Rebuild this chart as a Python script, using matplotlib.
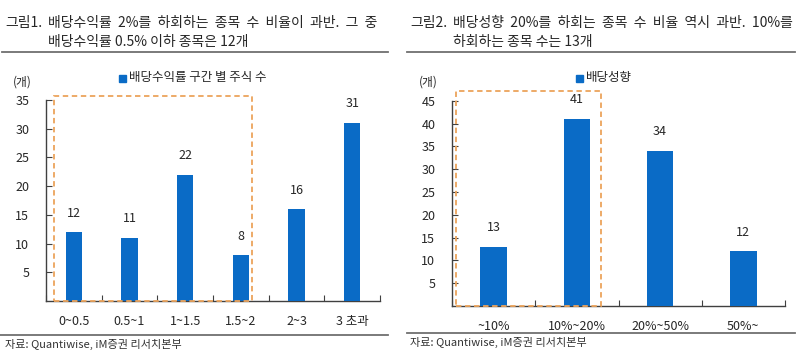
import matplotlib
matplotlib.use('Agg')
import matplotlib.pyplot as plt
import matplotlib.patches as patches
from matplotlib.lines import Line2D

plt.rcParams['font.family'] = ['Noto Sans CJK KR', 'DejaVu Sans']

# 데이터
구간1 = ['0~0.5', '0.5~1', '1~1.5', '1.5~2', '2~3', '3 초과']
주식수1 = [12, 11, 22, 8, 16, 31]
구간2 = ['~10%', '10%~20%', '20%~50%', '50%~']
주식수2 = [13, 41, 34, 12]

W, H = 800, 362
파랑 = '#0a6bc6'
주황 = '#eca45c'
글자 = '#262626'


def px(x, y):
    return x / W, 1 - y / H


fig = plt.figure(figsize=(W / 100, H / 100), dpi=100)


def 그래프(rect, 구간, 값, ymax, 범례, 폭, 박스):
    ax = fig.add_axes(rect)
    n = len(구간)
    xs = list(range(n))
    ax.bar(xs, 값, width=폭, color=파랑, label=범례, zorder=3)
    for x, v in zip(xs, 값):
        ax.annotate(str(v), (x, v), xytext=(0, 9), textcoords='offset points',
                    ha='center', va='bottom', fontsize=9, color=글자)
    ax.set_xlim(-0.5, n - 0.5)
    ax.set_ylim(0, ymax)
    ax.set_yticks(range(5, ymax + 1, 5))
    ax.set_xticks([i - 0.5 for i in range(n + 1)])
    ax.set_xticklabels([])
    ax.set_xticks(xs, minor=True)
    ax.set_xticklabels(구간, minor=True)
    ax.tick_params(axis='x', which='major', direction='in', length=4, color='#404040')
    ax.tick_params(axis='x', which='minor', length=0, pad=10, labelsize=9, labelcolor=글자)
    ax.tick_params(axis='y', direction='in', length=4, color='#404040', pad=12,
                   labelsize=9, labelcolor=글자)
    for s in ['top', 'right']:
        ax.spines[s].set_visible(False)
    for s in ['left', 'bottom']:
        ax.spines[s].set_color('#404040')
        ax.spines[s].set_linewidth(1.0)
    x0, x1, ytop = 박스
    ax.add_patch(patches.Rectangle((x0, 0), x1 - x0, ytop, fill=False,
                                   edgecolor=주황, linestyle=(0, (3, 2)),
                                   linewidth=1.3, clip_on=False, zorder=4))
    return ax


ax1 = 그래프([46 / W, 1 - 301 / H, 334 / W, 201 / H], 구간1, 주식수1, 35,
            '배당수익률 구간 별 주식 수', 0.29, (-0.356, 3.2, 35.7))
ax2 = 그래프([452 / W, 1 - 306 / H, 333 / W, 205.3 / H], 구간2, 주식수2, 45,
            '배당성향', 0.32, (-0.452, 1.29, 47.1))

# 범례
for (x, y, t) in [(122, 78, '배당수익률 구간 별 주식 수'), (579, 78, '배당성향')]:
    fig.patches.append(patches.Rectangle(px(x - 3.5, y + 3.5), 7 / W, 7 / H,
                                         transform=fig.transFigure, color=파랑))
    fig.text(*px(x + 7, y), t, fontsize=9, color=글자, va='center', ha='left')

# 단위
fig.text(*px(22, 82), '(개)', fontsize=8.5, color=글자, ha='center', va='center')
fig.text(*px(428, 82), '(개)', fontsize=8.5, color=글자, ha='center', va='center')

# 제목
fig.text(*px(5, 23), '그림1.', fontsize=10, color=글자, va='center')
fig.text(*px(48, 23), '배당수익률  2%를  하회하는  종목  수  비율이  과반.  그  중',
         fontsize=10, color=글자, va='center')
fig.text(*px(48, 42), '배당수익률 0.5% 이하 종목은 12개', fontsize=10, color=글자, va='center')
fig.text(*px(410, 23), '그림2.', fontsize=10, color=글자, va='center')
fig.text(*px(453, 23), '배당성향  20%를  하회는  종목  수  비율  역시  과반.  10%를',
         fontsize=10, color=글자, va='center')
fig.text(*px(453, 42), '하회하는 종목 수는 13개', fontsize=10, color=글자, va='center')

# 구분선
for (xa, xb, y) in [(2, 388, 52), (407, 795, 52), (0, 388, 335), (407, 795, 333)]:
    (fa, fy), (fb, _) = px(xa, y), px(xb, y)
    fig.add_artist(Line2D([fa, fb], [fy, fy], transform=fig.transFigure,
                          color='#707070', linewidth=1.3))

# 출처
fig.text(*px(5, 344), '자료: Quantiwise, iM증권 리서치본부', fontsize=8, color='#333333', va='center')
fig.text(*px(410, 342), '자료: Quantiwise, iM증권 리서치본부', fontsize=8, color='#333333', va='center')

fig.savefig('out.png', dpi=100)
